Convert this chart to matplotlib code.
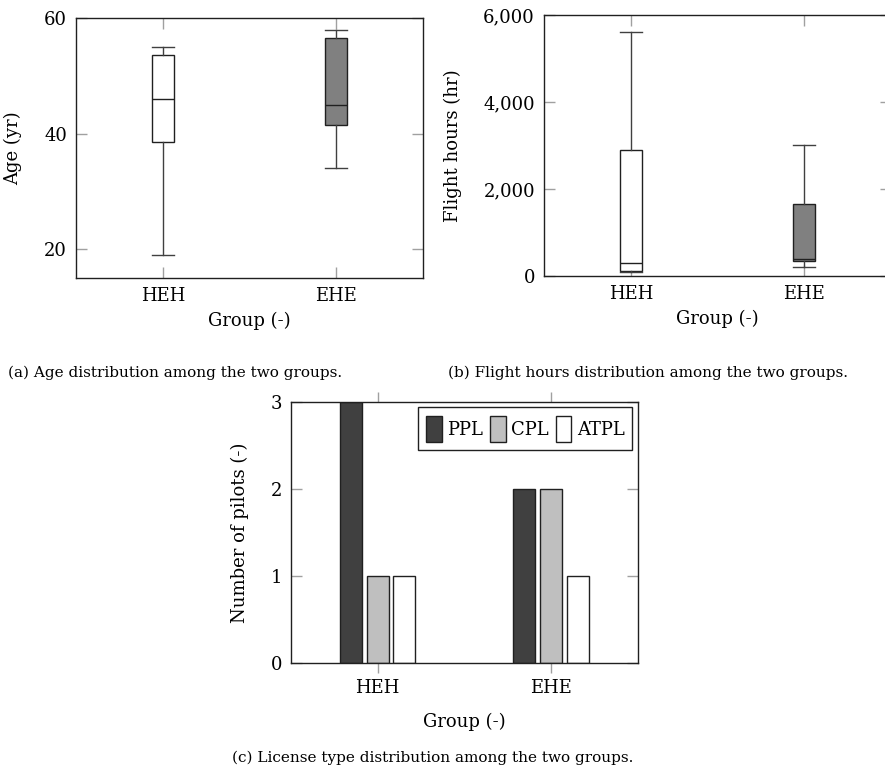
"""
Pilot demographics: age, flight hours and license type for the two groups.
"""

import matplotlib.pyplot as plt
from matplotlib.ticker import FuncFormatter

# Data
groups = ["HEH", "EHE"]

age_low = [19, 34]
age_q1 = [38.5, 41.5]
age_med = [46, 45]
age_q3 = [53.6, 56.5]
age_high = [55, 58]

hours_low = [100, 200]
hours_q1 = [120, 350]
hours_med = [300, 400]
hours_q3 = [2900, 1650]
hours_high = [5600, 3000]

licenses = ["PPL", "CPL", "ATPL"]
ppl_counts = [3, 2]
cpl_counts = [1, 2]
atpl_counts = [1, 1]

box_colors = ["white", "#808080"]
bar_colors = ["#404040", "#bfbfbf", "white"]

plt.rcParams['font.family'] = ['DejaVu Serif']
plt.rcParams['font.size'] = 13

TICK_GRAY = "#a0a0a0"
BOX_W = 0.127


def style_axes(ax, x_out=False):
    for sp in ax.spines.values():
        sp.set_linewidth(1.0)
        sp.set_color("#202020")
    ax.tick_params(axis='y', which='both', direction='in', length=8,
                   width=1, color=TICK_GRAY, left=True, right=True,
                   labelsize=13, pad=6.5)
    if x_out:
        ax.tick_params(axis='x', which='both', direction='out', length=7.5,
                       width=1, color=TICK_GRAY, bottom=True, top=True,
                       labelsize=13, pad=4)
    else:
        ax.tick_params(axis='x', which='both', direction='in', length=8,
                       width=1, color=TICK_GRAY, bottom=True, top=True,
                       labelsize=13, pad=6.5)
    ax.set_xlim(0.5, 2.5)
    ax.set_xticks([1, 2])
    ax.set_xticklabels(groups)


def box_stats(low, q1, med, q3, high):
    return [
        dict(whislo=low[i], q1=q1[i], med=med[i], q3=q3[i], whishi=high[i],
             fliers=[], label=groups[i])
        for i in range(len(groups))
    ]


def draw_boxes(ax, stats):
    res = ax.bxp(stats, positions=[1, 2], widths=BOX_W, capwidths=BOX_W,
                 patch_artist=True, showfliers=False, manage_ticks=False,
                 boxprops=dict(linewidth=1.0, edgecolor="#202020"),
                 medianprops=dict(color="#202020", linewidth=1.0),
                 whiskerprops=dict(color="#404040", linewidth=1.0),
                 capprops=dict(color="#404040", linewidth=1.0))
    for patch, col in zip(res['boxes'], box_colors):
        patch.set_facecolor(col)


fig = plt.figure(figsize=(8.85, 7.8), dpi=100, facecolor='white')

# (a) Age
ax_a = fig.add_axes([0.0859, 0.6436, 0.392, 0.3333])
draw_boxes(ax_a, box_stats(age_low, age_q1, age_med, age_q3, age_high))
style_axes(ax_a)
ax_a.set_ylim(15, 60)
ax_a.set_yticks([20, 40, 60])
ax_a.set_ylabel("Age (yr)", fontsize=13)
ax_a.yaxis.set_label_coords(-0.155, 0.5)
ax_a.set_xlabel("Group (-)", fontsize=13, va='top')
ax_a.xaxis.set_label_coords(0.5, -0.13)

# (b) Flight hours
ax_b = fig.add_axes([0.6147, 0.6462, 0.392, 0.3346])
draw_boxes(ax_b, box_stats(hours_low, hours_q1, hours_med, hours_q3, hours_high))
style_axes(ax_b)
ax_b.set_ylim(0, 6000)
ax_b.set_yticks([0, 2000, 4000, 6000])
ax_b.yaxis.set_major_formatter(FuncFormatter(lambda v, p: f"{int(v):,}"))
ax_b.set_ylabel("Flight hours (hr)", fontsize=13)
ax_b.yaxis.set_label_coords(-0.235, 0.5)
ax_b.set_xlabel("Group (-)", fontsize=13, va='top')
ax_b.xaxis.set_label_coords(0.5, -0.13)

# (c) License type
ax_c = fig.add_axes([0.3288, 0.15, 0.392, 0.3346])
offsets = [-0.154, 0.0, 0.154]
for counts, name, col, off in zip([ppl_counts, cpl_counts, atpl_counts],
                                  licenses, bar_colors, offsets):
    xs = [i + 1 + off for i in range(len(groups))]
    ax_c.bar(xs, counts, width=BOX_W, color=col, edgecolor="#202020",
             linewidth=1.0, label=name, zorder=2)
style_axes(ax_c, x_out=True)
ax_c.set_ylim(0, 3)
ax_c.set_yticks([0, 1, 2, 3])
ax_c.set_ylabel("Number of pilots (-)", fontsize=13)
ax_c.yaxis.set_label_coords(-0.12, 0.5)
ax_c.set_xlabel("Group (-)", fontsize=13, va='top')
ax_c.xaxis.set_label_coords(0.5, -0.19)
leg = ax_c.legend(loc='upper right', ncol=3, fontsize=13, frameon=True,
                  fancybox=False, edgecolor="#202020", framealpha=1,
                  handlelength=0.85, handleheight=1.9, handletextpad=0.3,
                  columnspacing=0.4, borderpad=0.45, borderaxespad=0.3)
leg.get_frame().set_linewidth(1.0)

# Sub-figure captions
fig.text(8 / 885, 1 - 373 / 780, "(a) Age distribution among the two groups.",
         fontsize=11, ha='left', va='center')
fig.text(448 / 885, 1 - 373 / 780, "(b) Flight hours distribution among the two groups.",
         fontsize=11, ha='left', va='center')
fig.text(433 / 885, 1 - 758 / 780, "(c) License type distribution among the two groups.",
         fontsize=11, ha='center', va='center')

fig.savefig("out.png", dpi=100, facecolor='white')
plt.close(fig)
